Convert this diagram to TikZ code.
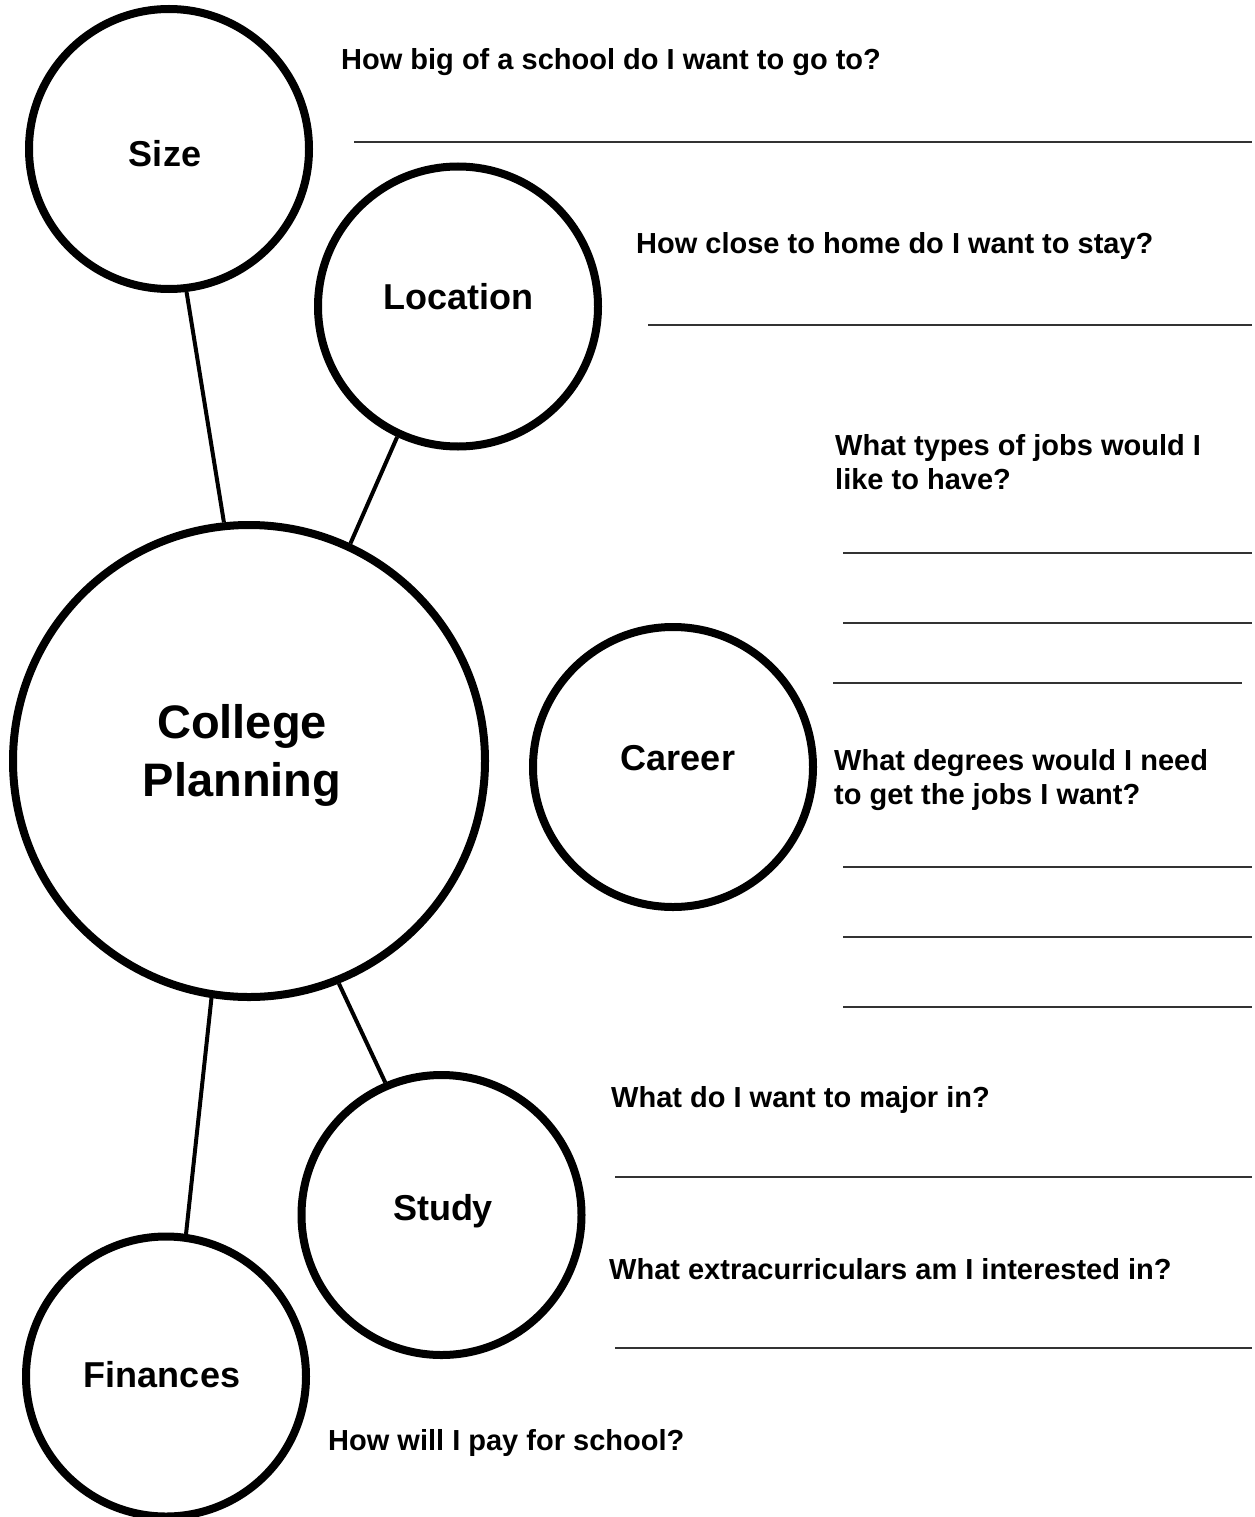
\documentclass[tikz,border=0pt]{standalone}
\usepackage{fontspec}
\setmainfont{Liberation Sans}
\begin{document}
\begin{tikzpicture}[x=1pt,y=-1pt,
  bubble/.style={circle,draw,line width=8pt,minimum size=280pt,inner sep=0pt,
    font=\fontsize{36}{43}\selectfont\bfseries},
  link/.style={line width=4pt},
  uline/.style={line width=1.6pt,black!80},
  q/.style={anchor=base west,inner sep=0pt,font=\fontsize{29}{34}\selectfont\bfseries}]
\useasboundingbox (0,0) rectangle (1254,1517);

% bubbles
\node[bubble,minimum size=472pt,font=\fontsize{47}{58}\selectfont\bfseries,
      text height=70pt,text depth=0pt] (cp) at (249,761)
      {\hspace*{-14pt}\begin{tabular}[b]{@{}c@{}}College\\Planning\end{tabular}};
\node[bubble,text height=35.8pt,text depth=0pt] (size) at (169,149) {\hspace*{-8pt}Size};
\node[bubble,text height=25.8pt,text depth=20pt] (loc) at (458,306.5) {Location};
\node[bubble,text height=25.8pt,text depth=18pt] (career) at (673,767) {\hspace*{10pt}Career};
\node[bubble,text height=25.8pt,text depth=14pt] (study) at (441.5,1215) {\hspace*{3pt}Study};
\node[bubble,text height=25.8pt,text depth=3pt] (fin) at (166,1376.5) {\hspace*{-8pt}Finances};

% connectors
\draw[link] (size.277.2) -- (cp.96.5);
\draw[link] (loc.245) -- (cp.65.8);
\draw[link] (cp.292.3) -- (study.113.9);
\draw[link] (cp.261.2) -- (fin.82.5);

% questions
\node[q] (q1) at (341,70) {How big of a school do I want to go to?};
\node[q] (q2) at (636,253) {How close to home do I want to stay?};
\node[q] (q3) at (835,455) {\begin{tabular}[t]{@{}l@{}}What types of jobs would I\\like to have?\end{tabular}};
\node[q] (q4) at (834,770) {\begin{tabular}[t]{@{}l@{}}What degrees would I need\\to get the jobs I want?\end{tabular}};
\node[q] (q5) at (611,1107) {What do I want to major in?};
\node[q] (q6) at (609,1279) {What extracurriculars am I interested in?};
\node[q] (q7) at (328,1450) {How will I pay for school?};

% answer lines
\coordinate (a1) at (354,142);  \coordinate (b1) at (1252,142);
\coordinate (a2) at (648,325);  \coordinate (b2) at (1252,325);
\coordinate (a3) at (843,553);  \coordinate (b3) at (1252,553);
\coordinate (a4) at (843,623);  \coordinate (b4) at (1252,623);
\coordinate (a5) at (833,683);  \coordinate (b5) at (1242,683);
\coordinate (a6) at (843,867);  \coordinate (b6) at (1252,867);
\coordinate (a7) at (843,937);  \coordinate (b7) at (1252,937);
\coordinate (a8) at (843,1007); \coordinate (b8) at (1252,1007);
\coordinate (a9) at (615,1177); \coordinate (b9) at (1252,1177);
\coordinate (a10) at (615,1348); \coordinate (b10) at (1252,1348);
\foreach \i in {1,...,10} \draw[uline] (a\i) -- (b\i);
\end{tikzpicture}
\end{document}
